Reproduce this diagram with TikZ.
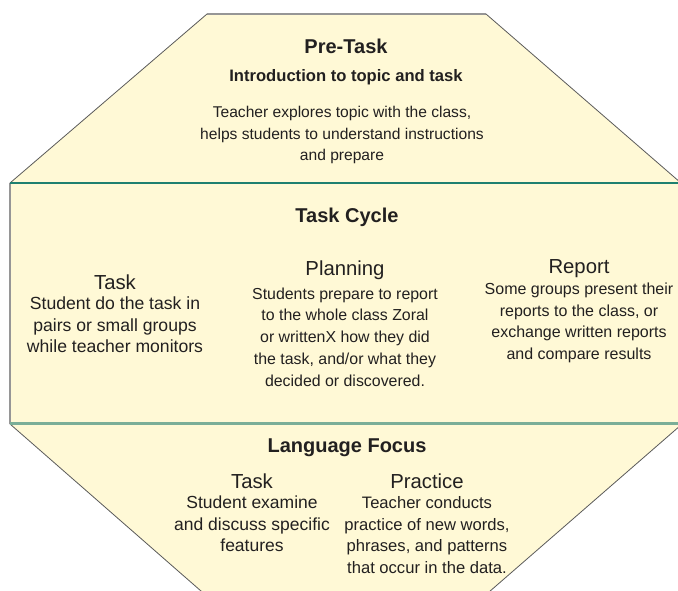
\documentclass[tikz,border=0pt]{standalone}
\usepackage{fontspec}
\setmainfont{Liberation Sans}
\definecolor{panel}{RGB}{255,249,214}
\definecolor{ink}{RGB}{34,32,32}
\definecolor{edge}{RGB}{90,90,90}
\definecolor{rim}{RGB}{150,150,150}
\definecolor{tealrule}{RGB}{30,128,112}
\definecolor{sagerule}{RGB}{122,174,152}
\tikzset{
  txt/.style={inner sep=0pt, align=center, text=ink},
  head/.style={txt, font=\bfseries\fontsize{20}{24}\selectfont},
  subhead/.style={txt, font=\fontsize{20.3}{24}\selectfont},
  lead/.style={txt, font=\bfseries\fontsize{16.6}{20}\selectfont},
  body/.style={txt, font=\fontsize{#1}{21.7}\selectfont},
  slant/.style={draw=edge, line width=0.8pt},
}
\begin{document}
\begin{tikzpicture}[x=1pt,y=-1pt]
\useasboundingbox (0,0) rectangle (678,590);
\begin{scope}
  \clip (0,0) rectangle (678,590);
  % octagon body
  \fill[panel] (207,14) -- (486,14) -- (681,183) -- (681,425) -- (466,612)
     -- (225,612) -- (10,424) -- (10,183) -- cycle;
  % outline pieces
  \draw[rim, line width=1.2pt] (207,14) -- (486,14);
  \draw[slant] (10,183) -- (207,14);
  \draw[slant] (486,14) -- (681,183);
  \draw[rim, line width=1.6pt] (10,183) -- (10,424);
  \draw[slant] (10,424) -- (225,612);
  \draw[slant] (681,425) -- (466,612);
  % section dividers
  \draw[tealrule, line width=1.2pt] (10,183) -- (681,183);
  \draw[sagerule, line width=2.4pt] (10,423.5) -- (681,423.5);
\end{scope}

% pre-task section
\node[head] (pre) at (346,46) {Pre-Task};
\node[lead] (intro) at (346,77) {Introduction to topic and task};
\node[body=15.6] (preText) at (342,135)
  {Teacher explores topic with the class,\\helps students to understand instructions\\and prepare};

% task cycle section
\node[head] (cycle) at (347,217) {Task Cycle};
\node[subhead] (task) at (115,282) {Task};
\node[body=17.6] (taskText) at (115,325)
  {Student do the task in\\pairs or small groups\\while teacher monitors};
\node[subhead] (plan) at (345,270) {Planning};
\node[body=15.9] (planText) at (345,337)
  {Students prepare to report\\to the whole class Zoral\\or writtenX how they did\\the task, and/or what they\\decided or discovered.};
\node[subhead] (report) at (579,269) {Report};
\node[body=16] (reportText) at (579,323)
  {Some groups present their\\reports to the class, or\\exchange written reports\\and compare results};

% language focus section
\node[head] (focus) at (347,448) {Language Focus};
\node[subhead] (task2) at (252,481) {Task};
\node[body=17.5] (task2Text) at (252,524)
  {Student examine\\and discuss specific\\features};
\node[subhead] (practice) at (427,481) {Practice};
\node[body=16.6] (practiceText) at (427,535)
  {Teacher conducts\\practice of new words,\\phrases, and patterns\\that occur in the data.};
\end{tikzpicture}
\end{document}
